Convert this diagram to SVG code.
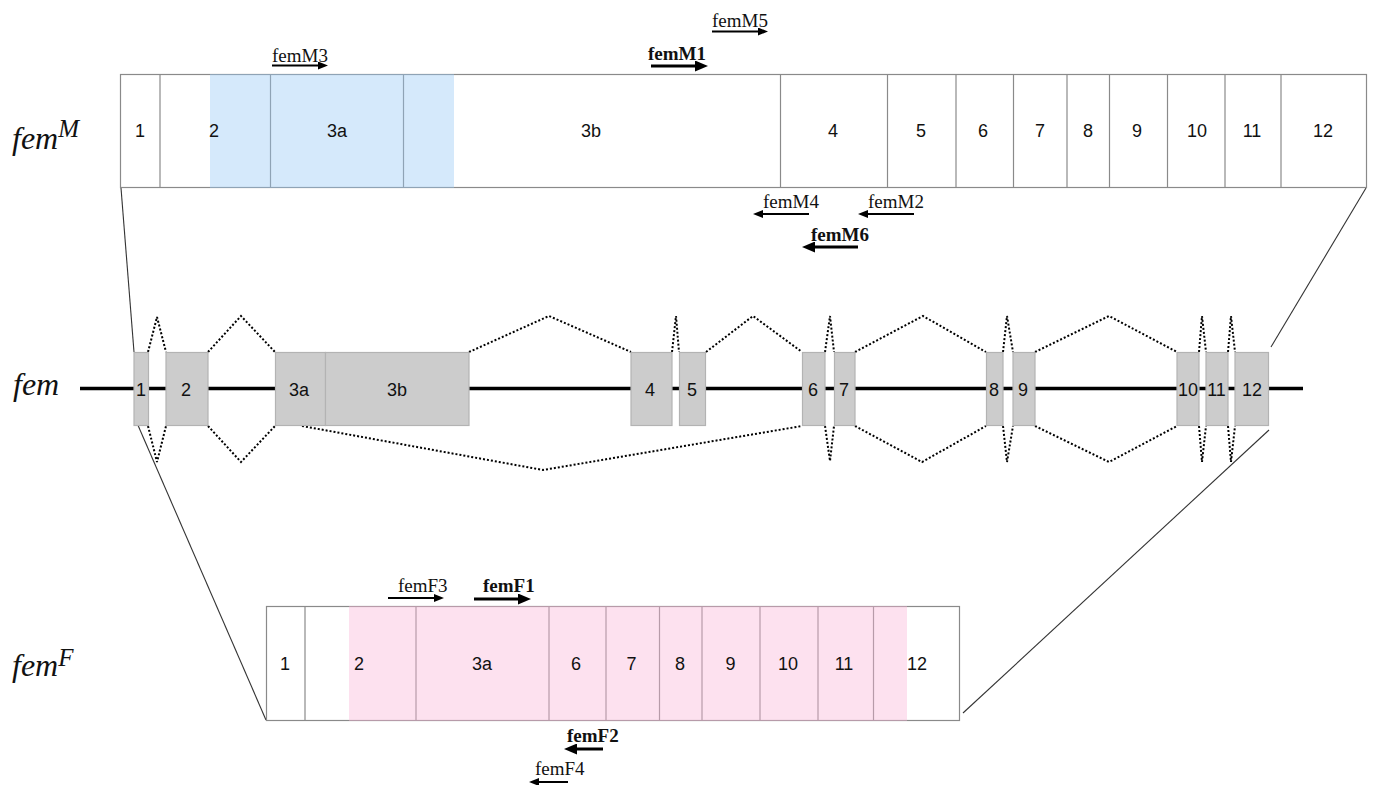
<svg xmlns="http://www.w3.org/2000/svg" width="1373" height="785" viewBox="0 0 1373 785">
<style>
.box{fill:#fff;stroke:#8a8a8a;stroke-width:1.2}
.div{stroke:#8a8a8a;stroke-width:1.2}
.num{font-family:"Liberation Sans",Arial,sans-serif;font-size:18px;fill:#111;text-anchor:middle}
.exon{fill:#cccccc;stroke:#b3b3b3;stroke-width:1.2}
.splice{fill:none;stroke:#000;stroke-width:2;stroke-dasharray:2 2}
.zoomline{fill:none;stroke:#333;stroke-width:1.1}
.gene{stroke:#000;stroke-width:3.5}
.lbl{font-family:"Liberation Serif","Times New Roman",serif;font-style:italic;fill:#111}
.pr{font-family:"Liberation Serif","Times New Roman",serif;font-size:19px;fill:#111}
.prb{font-family:"Liberation Serif","Times New Roman",serif;font-size:19px;font-weight:bold;fill:#111}
.arr{stroke:#000;stroke-width:2;marker-end:url(#ah)}
.arrb{stroke:#000;stroke-width:3;marker-end:url(#ahb)}
</style>
<defs>
<marker id="ah" viewBox="0 0 10 8" markerWidth="10" markerHeight="8" refX="3" refY="4" orient="auto" markerUnits="userSpaceOnUse"><path d="M0,0 L10,4 L0,8 z" fill="#000"/></marker>
<marker id="ahb" viewBox="0 0 13 11" markerWidth="13" markerHeight="11" refX="3" refY="5.5" orient="auto" markerUnits="userSpaceOnUse"><path d="M0,0 L13,5.5 L0,11 z" fill="#000"/></marker>
</defs>
<rect width="1373" height="785" fill="#fff"/>

<!-- Row labels -->
<g id="label-femM"><text class="lbl" x="12" y="149" font-size="32">fem<tspan font-size="25" dy="-12">M</tspan></text></g>
<g id="label-fem"><text class="lbl" x="13" y="395" font-size="32">fem</text></g>
<g id="label-femF"><text class="lbl" x="12" y="676" font-size="32">fem<tspan font-size="25" dy="-10">F</tspan></text></g>

<!-- Connectors -->
<g id="connectors">
<line class="zoomline" x1="121" y1="188" x2="134" y2="352"/>
<line class="zoomline" x1="1366" y1="188" x2="1271" y2="347"/>
<line class="zoomline" x1="137" y1="423" x2="266" y2="720"/>
<line class="zoomline" x1="1269" y1="430" x2="963" y2="713"/>
<polyline class="splice" points="148,352 157,317 166,352"/>
<polyline class="splice" points="208,352 241,316 275,352"/>
<polyline class="splice" points="469,352 549,316 631,352"/>
<polyline class="splice" points="672,352 676,316 679,352"/>
<polyline class="splice" points="706,352 753,316 802,352"/>
<polyline class="splice" points="825,352 830,316 834,352"/>
<polyline class="splice" points="855,352 923,316 986,352"/>
<polyline class="splice" points="1003,352 1007,316 1013,352"/>
<polyline class="splice" points="1035,352 1109,316 1177,352"/>
<polyline class="splice" points="1199,352 1202,316 1206,352"/>
<polyline class="splice" points="1228,352 1231,316 1235,352"/>
<polyline class="splice" points="148,426 157,462 166,426"/>
<polyline class="splice" points="208,426 241,462 275,426"/>
<polyline class="splice" points="302,426 543,470 802,426"/>
<polyline class="splice" points="825,426 830,461 834,426"/>
<polyline class="splice" points="855,426 922,462 986,426"/>
<polyline class="splice" points="1003,426 1007,462 1013,426"/>
<polyline class="splice" points="1035,426 1109,462 1177,426"/>
<polyline class="splice" points="1199,426 1202,462 1206,426"/>
<polyline class="splice" points="1228,426 1231,462 1235,426"/>
</g>

<!-- femM transcript -->
<g id="femM">
<rect class="box" x="120.5" y="74.5" width="1246" height="113"/>
<line class="div" x1="160" y1="74.5" x2="160" y2="187.5"/>
<line class="div" x1="270.5" y1="74.5" x2="270.5" y2="187.5"/>
<line class="div" x1="403.5" y1="74.5" x2="403.5" y2="187.5"/>
<line class="div" x1="780.5" y1="74.5" x2="780.5" y2="187.5"/>
<line class="div" x1="887.5" y1="74.5" x2="887.5" y2="187.5"/>
<line class="div" x1="956" y1="74.5" x2="956" y2="187.5"/>
<line class="div" x1="1013.5" y1="74.5" x2="1013.5" y2="187.5"/>
<line class="div" x1="1067" y1="74.5" x2="1067" y2="187.5"/>
<line class="div" x1="1109.5" y1="74.5" x2="1109.5" y2="187.5"/>
<line class="div" x1="1167.5" y1="74.5" x2="1167.5" y2="187.5"/>
<line class="div" x1="1225" y1="74.5" x2="1225" y2="187.5"/>
<line class="div" x1="1281" y1="74.5" x2="1281" y2="187.5"/>
<rect x="210" y="74" width="244" height="114" fill="rgb(150,200,245)" fill-opacity="0.4"/>
<text class="num" x="140" y="137">1</text>
<text class="num" x="214" y="137">2</text>
<text class="num" x="337" y="137">3a</text>
<text class="num" x="591" y="137">3b</text>
<text class="num" x="833" y="137">4</text>
<text class="num" x="921" y="137">5</text>
<text class="num" x="983" y="137">6</text>
<text class="num" x="1040" y="137">7</text>
<text class="num" x="1088" y="137">8</text>
<text class="num" x="1137" y="137">9</text>
<text class="num" x="1197" y="137">10</text>
<text class="num" x="1252" y="137">11</text>
<text class="num" x="1323" y="137">12</text>
</g>

<!-- gene -->
<g id="fem-gene">
<line class="gene" x1="80" y1="388.5" x2="1303" y2="388.5"/>
<rect class="exon" x="134" y="352.5" width="14.5" height="73"/>
<rect class="exon" x="166" y="352.5" width="42" height="73"/>
<rect class="exon" x="275.5" y="352.5" width="50" height="73"/>
<rect class="exon" x="325.5" y="352.5" width="143.5" height="73"/>
<rect class="exon" x="631" y="352.5" width="41" height="73"/>
<rect class="exon" x="679.5" y="352.5" width="26" height="73"/>
<rect class="exon" x="802.5" y="352.5" width="22.5" height="73"/>
<rect class="exon" x="834.5" y="352.5" width="20.5" height="73"/>
<rect class="exon" x="986.5" y="352.5" width="16.5" height="73"/>
<rect class="exon" x="1013" y="352.5" width="22" height="73"/>
<rect class="exon" x="1177" y="352.5" width="22" height="73"/>
<rect class="exon" x="1206" y="352.5" width="22" height="73"/>
<rect class="exon" x="1235" y="352.5" width="33.5" height="73"/>
<text class="num" x="141" y="396">1</text>
<text class="num" x="186" y="396">2</text>
<text class="num" x="299" y="396">3a</text>
<text class="num" x="397" y="396">3b</text>
<text class="num" x="650" y="396">4</text>
<text class="num" x="692" y="396">5</text>
<text class="num" x="813" y="396">6</text>
<text class="num" x="844" y="396">7</text>
<text class="num" x="994" y="396">8</text>
<text class="num" x="1023" y="396">9</text>
<text class="num" x="1188" y="396">10</text>
<text class="num" x="1216.5" y="396">11</text>
<text class="num" x="1252" y="396">12</text>
</g>

<!-- femF transcript -->
<g id="femF">
<rect class="box" x="266.5" y="606.5" width="693" height="114"/>
<line class="div" x1="305" y1="606.5" x2="305" y2="720.5"/>
<line class="div" x1="416" y1="606.5" x2="416" y2="720.5"/>
<line class="div" x1="549" y1="606.5" x2="549" y2="720.5"/>
<line class="div" x1="606" y1="606.5" x2="606" y2="720.5"/>
<line class="div" x1="659.5" y1="606.5" x2="659.5" y2="720.5"/>
<line class="div" x1="702" y1="606.5" x2="702" y2="720.5"/>
<line class="div" x1="760" y1="606.5" x2="760" y2="720.5"/>
<line class="div" x1="818" y1="606.5" x2="818" y2="720.5"/>
<line class="div" x1="873.5" y1="606.5" x2="873.5" y2="720.5"/>
<rect x="349" y="606" width="558" height="115" fill="rgb(250,180,215)" fill-opacity="0.4"/>
<text class="num" x="285" y="670">1</text>
<text class="num" x="359" y="670">2</text>
<text class="num" x="482" y="670">3a</text>
<text class="num" x="576" y="670">6</text>
<text class="num" x="631.5" y="670">7</text>
<text class="num" x="680" y="670">8</text>
<text class="num" x="730.5" y="670">9</text>
<text class="num" x="788" y="670">10</text>
<text class="num" x="844" y="670">11</text>
<text class="num" x="917" y="670">12</text>
</g>

<!-- primers -->
<g id="primer-femM5"><text class="pr" x="712" y="27">femM5</text><line class="arr" x1="712" y1="31.5" x2="761" y2="31.5"/></g>
<g id="primer-femM3"><text class="pr" x="272" y="62">femM3</text><line class="arr" x1="272" y1="65.5" x2="321" y2="65.5"/></g>
<g id="primer-femM1"><text class="prb" x="648" y="60">femM1</text><line class="arrb" x1="651" y1="66" x2="698" y2="66"/></g>
<g id="primer-femM4"><text class="pr" x="763" y="208">femM4</text><line class="arr" x1="809" y1="214" x2="760" y2="214"/></g>
<g id="primer-femM2"><text class="pr" x="868" y="208">femM2</text><line class="arr" x1="914" y1="214" x2="865" y2="214"/></g>
<g id="primer-femM6"><text class="prb" x="811" y="241">femM6</text><line class="arrb" x1="858" y1="247" x2="812" y2="247"/></g>
<g id="primer-femF3"><text class="pr" x="398" y="592">femF3</text><line class="arr" x1="388" y1="598" x2="437" y2="598"/></g>
<g id="primer-femF1"><text class="prb" x="483" y="592">femF1</text><line class="arrb" x1="474" y1="599" x2="521" y2="599"/></g>
<g id="primer-femF2"><text class="prb" x="567" y="742">femF2</text><line class="arrb" x1="603" y1="749" x2="574" y2="749"/></g>
<g id="primer-femF4"><text class="pr" x="535" y="775">femF4</text><line class="arr" x1="568" y1="782" x2="536" y2="782"/></g>
</svg>
